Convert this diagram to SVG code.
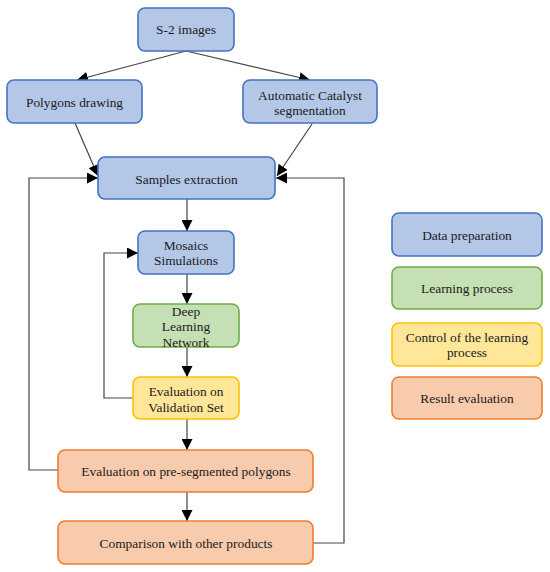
<svg xmlns="http://www.w3.org/2000/svg" width="550" height="572" viewBox="0 0 550 572">
<style>
text{font-family:"Liberation Serif","Times New Roman",serif;font-size:13.4px;fill:#1a1a1a;text-anchor:middle}
.b{fill:#b4c7e7;stroke:#4472c4;stroke-width:1.6}
.g{fill:#c5e0b4;stroke:#70ad47;stroke-width:1.6}
.y{fill:#ffe699;stroke:#ffc000;stroke-width:1.6}
.o{fill:#f8cbad;stroke:#ed7d31;stroke-width:1.6}
.c{fill:none;stroke:#444;stroke-width:1.2}
</style>
<defs>
<marker id="ah" viewBox="0 0 10 10" refX="10" refY="5" markerWidth="11" markerHeight="11" markerUnits="userSpaceOnUse" orient="auto">
<path d="M0,0 L10,5 L0,10 Z" fill="#000"/>
</marker>
</defs>
<rect width="550" height="572" fill="#fff"/>
<g id="connectors">
<line class="c" x1="186" y1="51" x2="77" y2="80" marker-end="url(#ah)"/>
<line class="c" x1="186" y1="51" x2="310" y2="80" marker-end="url(#ah)"/>
<line class="c" x1="75" y1="123" x2="98" y2="176" marker-end="url(#ah)"/>
<line class="c" x1="312" y1="124" x2="277" y2="176" marker-end="url(#ah)"/>
<polyline class="c" points="58,470 29,470 29,178 98,178" marker-end="url(#ah)"/>
<polyline class="c" points="313,543 344,543 344,178 276,178" marker-end="url(#ah)"/>
<line class="c" x1="187" y1="199" x2="187" y2="231" marker-end="url(#ah)"/>
<line class="c" x1="187" y1="274" x2="187" y2="304" marker-end="url(#ah)"/>
<line class="c" x1="187" y1="347" x2="187" y2="377" marker-end="url(#ah)"/>
<polyline class="c" points="133,398 104,398 104,253 138,253" marker-end="url(#ah)"/>
<line class="c" x1="187" y1="419" x2="187" y2="450" marker-end="url(#ah)"/>
<line class="c" x1="187" y1="492" x2="187" y2="521" marker-end="url(#ah)"/>
</g>
<g id="s2"><rect class="b" x="138" y="8" width="96" height="43" rx="7"/><text x="186" y="34">S-2 images</text></g>
<g id="polygons"><rect class="b" x="7" y="80" width="135" height="43" rx="7"/><text x="74.5" y="106.5">Polygons drawing</text></g>
<g id="catalyst"><rect class="b" x="243" y="80" width="134" height="43" rx="7"/><text x="310" y="99.5">Automatic Catalyst</text><text x="310" y="114.5">segmentation</text></g>
<g id="samples"><rect class="b" x="98" y="157" width="177" height="42" rx="7"/><text x="186.5" y="183.5">Samples extraction</text></g>
<g id="mosaics"><rect class="b" x="138" y="231" width="96" height="43" rx="7"/><text x="186" y="249.5">Mosaics</text><text x="186" y="264.5">Simulations</text></g>
<g id="deep"><rect class="g" x="133" y="304" width="106" height="43" rx="7"/><text x="186" y="315.5">Deep</text><text x="186" y="330.5">Learning</text><text x="186" y="346.5">Network</text></g>
<g id="validation"><rect class="y" x="133" y="377" width="106" height="42" rx="7"/><text x="186" y="395.5">Evaluation on</text><text x="186" y="411.5">Validation Set</text></g>
<g id="preseg"><rect class="o" x="58" y="450" width="255" height="42" rx="7"/><text x="186" y="475.5">Evaluation on pre-segmented polygons</text></g>
<g id="comparison"><rect class="o" x="58" y="521" width="255" height="43" rx="7"/><text x="186" y="547.5">Comparison with other products</text></g>
<g id="legend-data"><rect class="b" x="392" y="213" width="150" height="43" rx="7"/><text x="467" y="239.5">Data preparation</text></g>
<g id="legend-learning"><rect class="g" x="392" y="267" width="150" height="42" rx="7"/><text x="467" y="292.5">Learning process</text></g>
<g id="legend-control"><rect class="y" x="392" y="323" width="150" height="43" rx="7"/><text x="467" y="341.5">Control of the learning</text><text x="467" y="356.5">process</text></g>
<g id="legend-result"><rect class="o" x="392" y="377" width="150" height="42" rx="7"/><text x="467" y="402.5">Result evaluation</text></g>
</svg>
